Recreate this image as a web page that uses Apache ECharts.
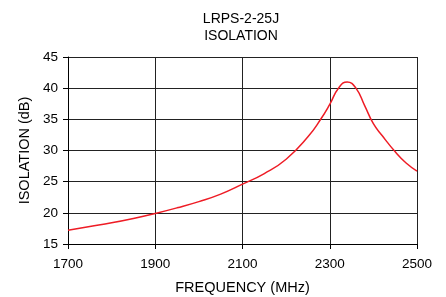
<!DOCTYPE html>
<html><head><meta charset="utf-8">
<script src="https://cdn.jsdelivr.net/npm/echarts@6/dist/echarts.min.js"></script>
<style>html,body{margin:0;padding:0;background:#fff}#c{width:446px;height:297px}</style>
</head><body><div id="c"></div>
<script>
const freq = [1700,1750,1800,1850,1900,1950,2000,2050,2100,2150,2200,2250,2280,2300,2320,2340,2360,2380,2400,2420,2450,2475,2500];
const isolation = [17.2,17.8,18.4,19.1,19.9,20.8,21.8,23.0,24.6,26.3,28.6,32.2,35.1,37.4,40.0,41.0,40.0,37.2,34.3,32.4,29.8,28.0,26.7];
const xTicks = [1700,2500,200];
const yTicks = [15,45,5];
const chart = echarts.init(document.getElementById('c'));
const font = 'Liberation Sans, Arial, sans-serif';
chart.setOption({
  animation:false,
  title:{text:'LRPS-2-25J\nISOLATION', left:236, top:6, textAlign:'center',
    textStyle:{fontFamily:font, fontSize:14, fontWeight:'normal', color:'#000', lineHeight:17}},
  grid:{left:68, right:29, top:57, bottom:53, containLabel:false, outerBoundsMode:'none'},
  xAxis:{type:'value', min:xTicks[0], max:xTicks[1], interval:xTicks[2],
    name:'FREQUENCY (MHz)', nameLocation:'middle', nameGap:36,
    nameTextStyle:{fontFamily:font, fontSize:14.5, color:'#000'},
    axisLine:{show:true, lineStyle:{color:'#000', width:1}},
    axisTick:{show:true, inside:false, length:5, lineStyle:{color:'#000'}},
    axisLabel:{fontFamily:font, fontSize:13.5, color:'#000', margin:13, formatter:v=>String(v)},
    splitLine:{show:true, lineStyle:{color:'#222', width:1}}},
  yAxis:{type:'value', min:yTicks[0], max:yTicks[1], interval:yTicks[2],
    name:'ISOLATION (dB)', nameLocation:'middle', nameGap:33, nameRotate:90,
    nameTextStyle:{fontFamily:font, fontSize:14.5, color:'#000'},
    axisLine:{show:true, lineStyle:{color:'#000', width:1}},
    axisTick:{show:true, inside:false, length:5, lineStyle:{color:'#000'}},
    axisLabel:{fontFamily:font, fontSize:13.5, color:'#000', margin:10},
    splitLine:{show:true, lineStyle:{color:'#222', width:1}}},
  series:[{type:'line', data:freq.map((f,i)=>[f,isolation[i]]), smooth:0.5, showSymbol:false,
    lineStyle:{color:'#ee1c25', width:1.5}}]
});
</script></body></html>
